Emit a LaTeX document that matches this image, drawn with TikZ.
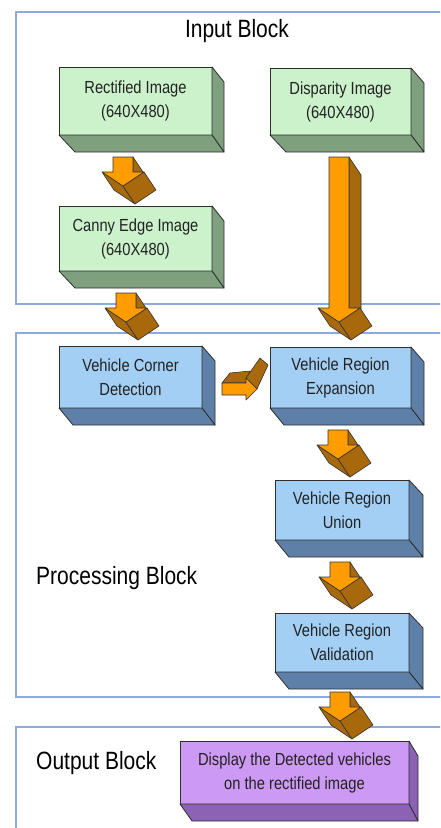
\documentclass[tikz,border=0pt]{standalone}
\usepackage{fontspec}
\setmainfont{Liberation Sans}[FakeStretch=0.84]
\usetikzlibrary{calc}
\definecolor{framec}{HTML}{8EA9DB}
\definecolor{gfront}{HTML}{CCF2CC}
\definecolor{gside}{HTML}{7FA07F}
\definecolor{bfront}{HTML}{A3CFF5}
\definecolor{bside}{HTML}{5E80A8}
\definecolor{pfront}{HTML}{CC99F5}
\definecolor{pside}{HTML}{8C62B5}
\definecolor{afront}{HTML}{FF9C00}
\definecolor{aside}{HTML}{A8680C}
\definecolor{edgec}{HTML}{2E2E2E}
\definecolor{txtc}{HTML}{222222}
\tikzset{
  frame/.style={draw=framec, line width=1.5pt},
  boxfront/.style={draw=edgec, line width=0.8pt, anchor=north west, inner sep=1pt, outer sep=0pt,
    align=center, text=txtc, font=\fontsize{17.5}{24}\selectfont},
  sideface/.style={draw=edgec, line width=0.8pt, line join=round},
  lbl/.style={inner sep=0pt, text=black, font=\fontsize{25}{30}\selectfont},
  arrside/.style={fill=aside, draw=black!80, line width=0.6pt, line join=round},
  arrfront/.style={fill=afront, draw=black!80, line width=0.6pt, line join=round}
}
\newcommand\boxsides[4]{%
  \filldraw[sideface, fill=#2] (#1.north east) -- ++(#3,15) -- ($(#1.south east)+(#3,17)$) -- (#1.south east) -- cycle;
  \filldraw[sideface, fill=#2] (#1.south west) -- (#1.south east) -- ++(#3,17) -- ($(#1.south west)+(#4,17)$) -- cycle;
}
\newcommand\darrow[4]{%
  \coordinate (#1) at (#2,#3);
  \begin{scope}[shift={(#1)}]
    \filldraw[arrside] (10,0) -- (10,#4) -- (22,#4+18) -- (22,18) -- cycle;
    \filldraw[arrside] (-21,#4) -- (0,#4+14) -- (12,#4+32) -- (-9,#4+18) -- cycle;
    \filldraw[arrside] (21,#4) -- (0,#4+14) -- (12,#4+32) -- (33,#4+18) -- cycle;
    \filldraw[arrfront] (-10,0) -- (10,0) -- (10,#4) -- (21,#4) -- (0,#4+14) -- (-21,#4) -- (-10,#4) -- cycle;
  \end{scope}}
\begin{document}
\begin{tikzpicture}[x=1pt, y=-1pt]
\clip (0,0) rectangle (440,828);
\fill[white] (0,0) rectangle (440,828);
% frames
\draw[frame] (16,12) rectangle (470,304);
\draw[frame] (16,333) rectangle (470,697);
\draw[frame] (16,727) rectangle (470,860);
% labels
\node[lbl] (inlbl) at (237,31) {Input Block};
\node[lbl, anchor=west] (proclbl) at (36,578) {Processing Block};
\node[lbl, anchor=west] (outlbl) at (36,763) {Output Block};
% boxes
\node[boxfront, fill=gfront, minimum width=153pt, minimum height=68pt] (rect) at (59,67) {Rectified Image\\(640X480)};
\boxsides{rect}{gside}{12}{16}
\node[boxfront, fill=gfront, minimum width=141pt, minimum height=67pt] (disp) at (270,68) {Disparity Image\\(640X480)};
\boxsides{disp}{gside}{13}{16}
\node[boxfront, fill=gfront, minimum width=153pt, minimum height=65pt] (canny) at (59,206) {Canny Edge Image\\(640X480)};
\boxsides{canny}{gside}{12}{16}
\node[boxfront, fill=bfront, minimum width=143pt, minimum height=62pt] (corner) at (59,346) {Vehicle Corner\\Detection};
\boxsides{corner}{bside}{13}{14}
\node[boxfront, fill=bfront, minimum width=141pt, minimum height=61pt] (expan) at (270,347) {Vehicle Region\\Expansion};
\boxsides{expan}{bside}{13}{14}
\node[boxfront, fill=bfront, minimum width=134pt, minimum height=60pt] (union) at (275,480) {Vehicle Region\\Union};
\boxsides{union}{bside}{14}{14}
\node[boxfront, fill=bfront, minimum width=134pt, minimum height=59pt] (valid) at (275,613) {Vehicle Region\\Validation};
\boxsides{valid}{bside}{14}{14}
\node[boxfront, fill=pfront, minimum width=229pt, minimum height=63pt] (outbox) at (180,741) {Display the Detected vehicles\\on the rectified image};
\boxsides{outbox}{pside}{9}{12}
% arrows
\darrow{a1}{123}{157}{15}
\darrow{a2}{126}{293}{15}
\darrow{a3}{339}{157}{151}
\darrow{a4}{338}{430}{15}
\darrow{a5}{340}{562}{15}
\darrow{a6}{340}{692}{15}
% right arrow (corner -> expansion)
\filldraw[arrside] (222,383) -- (246,383) -- (250,371) -- (230,373) -- cycle;
\filldraw[arrside] (246,378) -- (257,389) -- (268,365) -- (260,358) -- cycle;
\filldraw[arrfront] (222,383) -- (246,383) -- (246,378) -- (257,389) -- (246,400) -- (246,395) -- (222,395) -- cycle;
\end{tikzpicture}
\end{document}
